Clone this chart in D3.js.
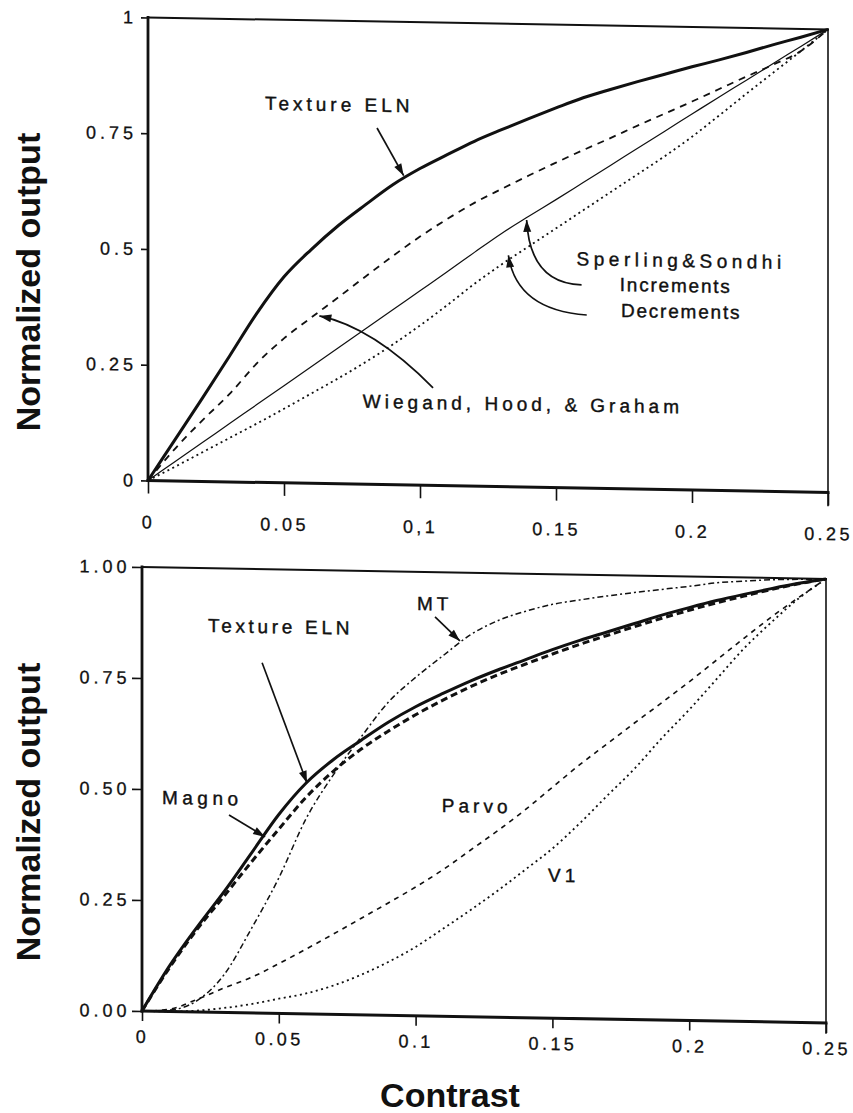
<!DOCTYPE html>
<html>
<head>
<meta charset="utf-8">
<script src="https://cdn.jsdelivr.net/npm/d3@7"></script>
<style>
  body { margin: 0; background: #fff; }
  svg text { font-family: "Liberation Sans", Arial, Helvetica, sans-serif; fill: #111; }
</style>
</head>
<body>
<svg id="chart" width="853" height="1113"></svg>
<script>
// contrast values shared by every curve
const contrast = [0, 0.01, 0.02, 0.03, 0.04, 0.05, 0.06, 0.07, 0.08, 0.09, 0.1, 0.11, 0.12,
  0.13, 0.14, 0.15, 0.16, 0.17, 0.18, 0.19, 0.2, 0.21, 0.22, 0.23, 0.24, 0.25]

// top panel
const textureTop = [0, 0.09, 0.18, 0.272, 0.365, 0.445, 0.505, 0.558, 0.604, 0.648, 0.684, 0.715, 0.745,
  0.771, 0.796, 0.82, 0.843, 0.862, 0.88, 0.897, 0.914, 0.93, 0.947, 0.965, 0.982, 1]
const wiegand = [0, 0.07, 0.132, 0.19, 0.257, 0.312, 0.358, 0.403, 0.449, 0.494, 0.537, 0.576, 0.612,
  0.643, 0.673, 0.702, 0.73, 0.757, 0.785, 0.812, 0.839, 0.867, 0.895, 0.922, 0.952, 1]
const increments = [0, 0.042, 0.084, 0.126, 0.168, 0.21, 0.252, 0.294, 0.336, 0.378, 0.42, 0.462, 0.505,
  0.547, 0.585, 0.622, 0.66, 0.698, 0.736, 0.774, 0.812, 0.85, 0.887, 0.925, 0.962, 1]
const decrements = [0, 0.031, 0.063, 0.095, 0.127, 0.16, 0.194, 0.228, 0.264, 0.303, 0.345, 0.39, 0.437,
  0.48, 0.52, 0.56, 0.6, 0.64, 0.68, 0.72, 0.763, 0.81, 0.858, 0.905, 0.952, 1]

// bottom panel
const textureBottom = [0, 0.102, 0.19, 0.272, 0.36, 0.448, 0.52, 0.574, 0.618, 0.66, 0.696, 0.727, 0.756,
  0.782, 0.806, 0.83, 0.852, 0.872, 0.892, 0.912, 0.93, 0.947, 0.962, 0.976, 0.989, 1]
const magno = [0, 0.098, 0.185, 0.262, 0.34, 0.415, 0.488, 0.548, 0.598, 0.64, 0.678, 0.712, 0.743,
  0.771, 0.796, 0.82, 0.843, 0.864, 0.885, 0.905, 0.924, 0.942, 0.958, 0.974, 0.988, 1]
const mt = [0, 0.003, 0.025, 0.085, 0.19, 0.305, 0.44, 0.54, 0.625, 0.705, 0.762, 0.812, 0.86,
  0.893, 0.915, 0.932, 0.943, 0.953, 0.962, 0.97, 0.978, 0.987, 0.992, 0.996, 0.998, 1]
const parvo = [0, 0.005, 0.028, 0.055, 0.08, 0.112, 0.146, 0.181, 0.217, 0.253, 0.29, 0.33, 0.375,
  0.42, 0.468, 0.52, 0.572, 0.62, 0.668, 0.715, 0.763, 0.813, 0.863, 0.912, 0.957, 1]
const v1 = [0, 0, 0.003, 0.01, 0.02, 0.033, 0.046, 0.065, 0.09, 0.12, 0.155, 0.197, 0.24,
  0.285, 0.333, 0.382, 0.44, 0.503, 0.565, 0.635, 0.7, 0.77, 0.84, 0.9, 0.955, 1]

// ticks
const xTicks = [0, 0.05, 0.1, 0.15, 0.2, 0.25]
const xLabelsTop = ["0", "0.05", "0,1", "0.15", "0.2", "0.25"]
const xLabelsBottom = ["0", "0.05", "0.1", "0.15", "0.2", "0.25"]
const yTicks = [0, 0.25, 0.5, 0.75, 1]
const yLabelsTop = ["0", "0.25", "0.5", "0.75", "1"]
const yLabelsBottom = ["0.00", "0.25", "0.50", "0.75", "1.00"]

const svg = d3.select('#chart')

// the scanned figure leans a little: right side sits ~12px lower
const SKEW = 1.0

const drawPanel = (p) => {
  const g = svg.append('g')
    .attr('transform', `translate(${p.left},${p.top}) skewY(${SKEW})`)

  const x = d3.scaleLinear().domain([0, 0.25]).range([0, p.width])
  const y = d3.scaleLinear().domain([0, 1]).range([p.height, 0])

  // axes (ticks + labels), frame drawn separately
  const xAxis = g.append('g')
    .attr('transform', `translate(0,${p.height})`)
    .call(d3.axisBottom(x).tickValues(xTicks).tickFormat((d, i) => p.xLabels[i])
      .tickSize(p.xTickSize).tickPadding(p.xPad))
  const yAxis = g.append('g')
    .call(d3.axisLeft(y).tickValues(yTicks).tickFormat((d, i) => p.yLabels[i])
      .tickSize(p.yTickSize).tickPadding(p.yPad))

  ;[xAxis, yAxis].forEach(a => {
    a.select('.domain').remove()
    a.attr('font-family', null).attr('font-size', null)
    a.selectAll('line').attr('stroke', '#111').attr('stroke-width', 1.6)
    a.selectAll('text')
      .attr('fill', '#111')
      .attr('stroke', '#111')
      .attr('stroke-width', 0.3)
      .style('font-size', '18px')
      .style('letter-spacing', '4px')
  })
  xAxis.selectAll('text').style('letter-spacing', '3.4px')

  // frame
  const frame = [
    { x1: 0, y1: 0, x2: 0, y2: p.height, w: 2.8 },
    { x1: 0, y1: p.height, x2: p.width, y2: p.height, w: 3 },
    { x1: 0, y1: 0, x2: p.width, y2: 0, w: 2 },
    { x1: p.width, y1: 0, x2: p.width, y2: p.height + p.xTickSize, w: 1.6 }
  ]
  g.selectAll('line.frame').data(frame).join('line')
    .attr('class', 'frame')
    .attr('x1', d => d.x1).attr('y1', d => d.y1)
    .attr('x2', d => d.x2).attr('y2', d => d.y2)
    .attr('stroke', '#111').attr('stroke-width', d => d.w)
    .attr('stroke-linecap', 'square')

  const line = d3.line()
    .x((d, i) => x(contrast[i]))
    .y(d => y(d))
    .curve(d3.curveMonotoneX)

  g.selectAll('path.series').data(p.series).join('path')
    .attr('class', 'series')
    .attr('d', d => line(d.values))
    .attr('fill', 'none')
    .attr('stroke', '#111')
    .attr('stroke-width', d => d.width)
    .attr('stroke-dasharray', d => d.dash)
    .attr('stroke-linejoin', 'round')

  // labels
  g.selectAll('text.note').data(p.notes).join('text')
    .attr('class', 'note')
    .attr('x', d => x(d.x))
    .attr('y', d => y(d.y))
    .attr('text-anchor', d => d.anchor || 'start')
    .style('font-size', '19px')
    .style('letter-spacing', d => (d.ls || 4) + 'px')
    .attr('stroke', '#111')
    .attr('stroke-width', 0.4)
    .text(d => d.text)

  // arrows
  p.arrows.forEach(a => {
    const p0 = [x(a.from[0]), y(a.from[1])]
    const p2 = [x(a.to[0]), y(a.to[1])]
    const c = a.via ? [x(a.via[0]), y(a.via[1])] : p0
    const path = d3.path()
    path.moveTo(p0[0], p0[1])
    if (a.via) path.quadraticCurveTo(c[0], c[1], p2[0], p2[1])
    else path.lineTo(p2[0], p2[1])
    g.append('path').attr('d', path.toString())
      .attr('fill', 'none').attr('stroke', '#111').attr('stroke-width', 1.7)

    const ang = Math.atan2(p2[1] - c[1], p2[0] - c[0])
    const L = 12, W = 4
    const bx = p2[0] - L * Math.cos(ang), by = p2[1] - L * Math.sin(ang)
    const head = [
      p2,
      [bx - W * Math.sin(ang), by + W * Math.cos(ang)],
      [bx + W * Math.sin(ang), by - W * Math.cos(ang)]
    ]
    g.append('polygon').attr('points', head.map(q => q.join(',')).join(' ')).attr('fill', '#111')
  })
}

drawPanel({
  left: 148, top: 17.5, width: 680, height: 463,
  xLabels: xLabelsTop, yLabels: yLabelsTop,
  xTickSize: 13, xPad: 22, yTickSize: 7, yPad: 4,
  series: [
    { values: textureTop, width: 3, dash: null },
    { values: wiegand, width: 1.8, dash: '7,6' },
    { values: increments, width: 1.2, dash: null },
    { values: decrements, width: 1.8, dash: '2,3.5' }
  ],
  notes: [
    { text: 'Texture ELN', x: 0.043, y: 0.805 },
    { text: 'Wiegand, Hood, & Graham', x: 0.079, y: 0.165 },
    { text: 'Sperling&Sondhi', x: 0.196, y: 0.481, anchor: 'middle', ls: 4.5 },
    { text: 'Increments', x: 0.194, y: 0.427, anchor: 'middle', ls: 1.8 },
    { text: 'Decrements', x: 0.196, y: 0.371, anchor: 'middle', ls: 1.8 }
  ],
  arrows: [
    { from: [0.0842, 0.77], to: [0.094, 0.668] },
    { from: [0.1048, 0.211], via: [0.0827, 0.34], to: [0.063, 0.362] },
    { from: [0.1594, 0.439], via: [0.1404, 0.44], to: [0.1392, 0.577] },
    { from: [0.1613, 0.374], via: [0.1355, 0.382], to: [0.1325, 0.5] }
  ]
})

drawPanel({
  left: 142, top: 567, width: 684, height: 444,
  xLabels: xLabelsBottom, yLabels: yLabelsBottom,
  xTickSize: 10, xPad: 9, yTickSize: 10, yPad: 1.5,
  series: [
    { values: textureBottom, width: 3, dash: null },
    { values: magno, width: 3, dash: '7,4' },
    { values: mt, width: 1.5, dash: '6,3,2,3' },
    { values: parvo, width: 1.6, dash: '5,5' },
    { values: v1, width: 1.8, dash: '2,3.5' }
  ],
  notes: [
    { text: 'Texture ELN', x: 0.0241, y: 0.856, ls: 3.7 },
    { text: 'MT', x: 0.1005, y: 0.914 },
    { text: 'Magno', x: 0.0073, y: 0.467, ls: 4.5 },
    { text: 'Parvo', x: 0.1096, y: 0.46 },
    { text: 'V1', x: 0.1484, y: 0.307 }
  ],
  arrows: [
    { from: [0.0439, 0.789], to: [0.0603, 0.52] },
    { from: [0.1071, 0.899], to: [0.1162, 0.846] },
    { from: [0.0318, 0.445], to: [0.045, 0.397] }
  ]
})

// axis titles
const titles = [
  { text: 'Normalized output', x: 40, y: 282, rotate: true },
  { text: 'Normalized output', x: 40, y: 812, rotate: true },
  { text: 'Contrast', x: 450, y: 1107, rotate: false }
]
svg.selectAll('text.title').data(titles).join('text')
  .attr('class', 'title')
  .attr('transform', d => `translate(${d.x},${d.y})` + (d.rotate ? ' rotate(-90)' : ''))
  .attr('text-anchor', 'middle')
  .style('font-size', '34px')
  .style('font-weight', 'bold')
  .text(d => d.text)
</script>
</body>
</html>
